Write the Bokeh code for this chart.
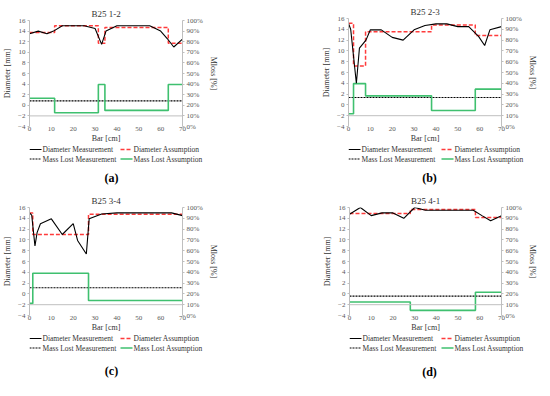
from bokeh.plotting import figure
from bokeh.models import (Range1d, LinearAxis, FixedTicker, PrintfTickFormatter,
                          Span, Label)
from bokeh.core.properties import value
from bokeh.layouts import column, row
from bokeh.embed import file_html
from bokeh.resources import INLINE

FONT = "Liberation Serif"

# ---------------- data ----------------
x_ticks = [0, 10, 20, 30, 40, 50, 60, 70]
diam_ticks = [-4, -2, 0, 2, 4, 6, 8, 10, 12, 14, 16]
pct_ticks = [0, 10, 20, 30, 40, 50, 60, 70, 80, 90, 100]
axis_base = -2  # horizontal axis crossing (diameter units)

titles = ["B25 1-2", "B25 2-3", "B25 3-4", "B25 4-1"]
letters = ["(a)", "(b)", "(c)", "(d)"]
legend_labels = ["Diameter Measurement", "Diameter Assumption",
                 "Mass Lost Measurement", "Mass Lost Assumption"]

# (a) B25 1-2
a_meas_x = [0, 4, 8, 11, 15, 20, 25, 30, 33, 35, 40, 45, 50, 55, 60, 63, 66, 70]
a_meas_y = [13.5, 14.0, 13.5, 14.0, 15.0, 15.0, 15.0, 14.5, 11.5, 14.0, 15.0, 15.0, 15.0, 15.0, 14.0, 12.6, 11.0, 12.5]
a_step_x = [0, 11.5, 31.5, 34.5, 63.5, 70]
a_diam_assump = [13.75, 15.0, 11.7, 14.7, 11.7]
a_mass_assump = [26.7, 13.0, 39.6, 15.2, 39.6]
a_mass_meas = 24.2

# (b) B25 2-3
b_meas_x = [0, 1, 3.6, 5, 8, 10, 15, 20, 25, 30, 35, 40, 45, 50, 55, 59.5, 62.3, 64.7, 70]
b_meas_y = [15.1, 14.0, 4.0, 10.5, 12.0, 13.9, 13.9, 12.5, 12.0, 13.9, 14.7, 15.0, 15.0, 14.5, 14.5, 12.7, 11.0, 13.9, 14.5]
b_step_x = [0, 2.3, 7.8, 38.0, 58.0, 70]
b_diam_assump = [15.1, 7.2, 13.55, 14.8, 12.85]
b_mass_assump = [11.75, 39.7, 28.4, 14.75, 34.6]
b_mass_meas = 26.9

# (c) B25 3-4
c_meas_x = [0, 1, 2.5, 3.5, 5, 10, 15, 20, 22, 26, 27.3, 33, 40, 50, 60, 65, 70]
c_meas_y = [15.0, 14.6, 8.9, 11.4, 13.0, 13.9, 11.0, 13.0, 9.9, 7.4, 13.9, 14.8, 15.0, 15.0, 15.0, 15.0, 14.5]
c_step_x = [0, 1.5, 27.0, 70]
c_diam_assump = [15.0, 11.0, 14.75]
c_mass_assump = [11.2, 39.1, 13.85]
c_mass_meas = 25.7

# (d) B25 4-1
d_meas_x = [0, 5, 10, 15, 20, 25, 30, 35, 40, 45, 50, 57, 61, 65, 70]
d_meas_y = [14.75, 16.0, 14.5, 15.0, 15.0, 14.0, 16.0, 15.5, 15.5, 15.5, 15.5, 15.5, 14.5, 13.55, 14.45]
d_step_x = [0, 28.0, 58.0, 70]
d_diam_assump = [14.87, 15.64, 14.15]
d_mass_assump = [12.5, 4.75, 21.5]
d_mass_meas = 17.9

# ---------------- styles ----------------
TICK_C = "#595959"
AXLINE_C = "#bfbfbf"
TEXT_C = "#333333"
RED = "#ff3b3b"
GREEN = "#3fc06f"
STYLES = [dict(line_color="black", line_width=1.1),
          dict(line_color=RED, line_width=1.5, line_dash="4 2"),
          dict(line_color="black", line_width=1.1, line_dash="2 1"),
          dict(line_color=GREEN, line_width=1.6)]


def make_main(idx, mx, my, sx, dass, mass, mmeas, fw, fh, left, right, top, bottom):
    p = figure(frame_width=fw, frame_height=fh, output_backend="svg", toolbar_location=None,
               x_range=Range1d(x_ticks[0], x_ticks[-1]),
               y_range=Range1d(diam_ticks[0], diam_ticks[-1]),
               min_border_left=left, min_border_right=right,
               min_border_top=top, min_border_bottom=bottom)
    p.extra_y_ranges = {"pct": Range1d(pct_ticks[0], pct_ticks[-1])}
    p.outline_line_color = None
    p.grid.visible = False

    p.title.text = titles[idx]
    p.title.align = "center"
    p.title.text_font = FONT
    p.title.text_font_size = "9px"
    p.title.text_font_style = "normal"
    p.title.text_color = TEXT_C
    p.title.standoff = 3

    xa = p.xaxis[0]
    xa.ticker = FixedTicker(ticks=x_ticks)
    xa.axis_line_color = None
    xa.major_tick_line_color = None
    xa.major_tick_out = 0
    xa.major_tick_in = 0
    xa.major_label_standoff = 0
    xa.axis_label = "Bar [cm]"
    xa.axis_label_standoff = 0

    ya = p.yaxis[0]
    ya.ticker = FixedTicker(ticks=diam_ticks)
    ya.axis_label = "Diameter [mm]"
    ya.axis_label_standoff = 3
    ya.major_label_standoff = 2

    ra = LinearAxis(y_range_name="pct", ticker=FixedTicker(ticks=pct_ticks),
                    formatter=PrintfTickFormatter(format="%d%%"),
                    axis_label="Mloss [%]")
    ra.axis_label_standoff = 3
    ra.major_label_standoff = 2
    p.add_layout(ra, "right")

    for ax in [xa, ya, ra]:
        ax.major_label_text_font = FONT
        ax.major_label_text_font_size = "7px"
        ax.major_label_text_color = TICK_C
        ax.axis_label_text_font = FONT
        ax.axis_label_text_font_size = "8px"
        ax.axis_label_text_font_style = "normal"
        ax.axis_label_text_color = TEXT_C
        ax.minor_tick_line_color = None
    for ax in [ya, ra]:
        ax.axis_line_color = AXLINE_C
        ax.major_tick_line_color = AXLINE_C
        ax.major_tick_out = 2
        ax.major_tick_in = 0

    p.add_layout(Span(location=axis_base, dimension="width",
                      line_color=AXLINE_C, line_width=1))

    p.line([sx[0], sx[-1]], [mmeas, mmeas], y_range_name="pct", **STYLES[2])
    p.step(sx, mass + mass[-1:], mode="after", y_range_name="pct", **STYLES[3])
    p.step(sx, dass + dass[-1:], mode="after", **STYLES[1])
    p.line(mx, my, **STYLES[0])
    return p


def make_legend(idx, total_w, left, h, g1, g2, lab_x, lab_y, gw=12):
    # frame starts where the main plot's frame starts (layout aligns frames);
    # data units equal panel-local pixels
    q = figure(frame_width=total_w - left, frame_height=h, output_backend="svg",
               toolbar_location=None,
               x_range=Range1d(left, total_w), y_range=Range1d(0, h),
               x_axis_location=None, y_axis_location=None,
               min_border_left=left, min_border_right=0,
               min_border_top=0, min_border_bottom=0)
    q.outline_line_color = None
    q.grid.visible = False
    cols = [g1, g2, g1, g2]
    rows = [h - 4, h - 4, h - 13.5, h - 13.5]
    for st, gx, ry in zip(STYLES, cols, rows):
        q.line([gx, gx + gw], [ry, ry], **st)
    q.text(x=[gx + gw + 1 for gx in cols], y=rows, text=legend_labels,
           text_font=value(FONT), text_font_size=value("7.5px"),
           text_color=TEXT_C, text_baseline="middle", text_align="left")
    q.add_layout(Label(x=lab_x, y=lab_y, text=letters[idx], text_align="center",
                       text_baseline="middle", text_font=FONT, text_font_size="12px",
                       text_font_style="bold", text_color="black"))
    return q


pa = make_main(0, a_meas_x, a_meas_y, a_step_x, a_diam_assump, a_mass_assump, a_mass_meas,
               153, 106, 25, 89, 20, 19)
pb = make_main(1, b_meas_x, b_meas_y, b_step_x, b_diam_assump, b_mass_assump, b_mass_meas,
               153, 108, 77, 37, 18, 19)
pc = make_main(2, c_meas_x, c_meas_y, c_step_x, c_diam_assump, c_mass_assump, c_mass_meas,
               153, 108, 25, 89, 15, 19)
pd = make_main(3, d_meas_x, d_meas_y, d_step_x, d_diam_assump, d_mass_assump, d_mass_meas,
               152, 108, 78, 37, 15, 19)

la = make_legend(0, 267, 25, 47, 25, 116, 107, 14.4)
lb = make_legend(1, 267, 77, 47, 77, 170, 158, 15)
lc = make_legend(2, 267, 25, 46, 25, 116, 107, 9.4)
ld = make_legend(3, 267, 78, 46, 78, 170, 158, 8.8)

layout = column(row(column(pa, la), column(pb, lb)),
                row(column(pc, lc), column(pd, ld)))

open("out.html", "w").write(file_html(layout, INLINE))
